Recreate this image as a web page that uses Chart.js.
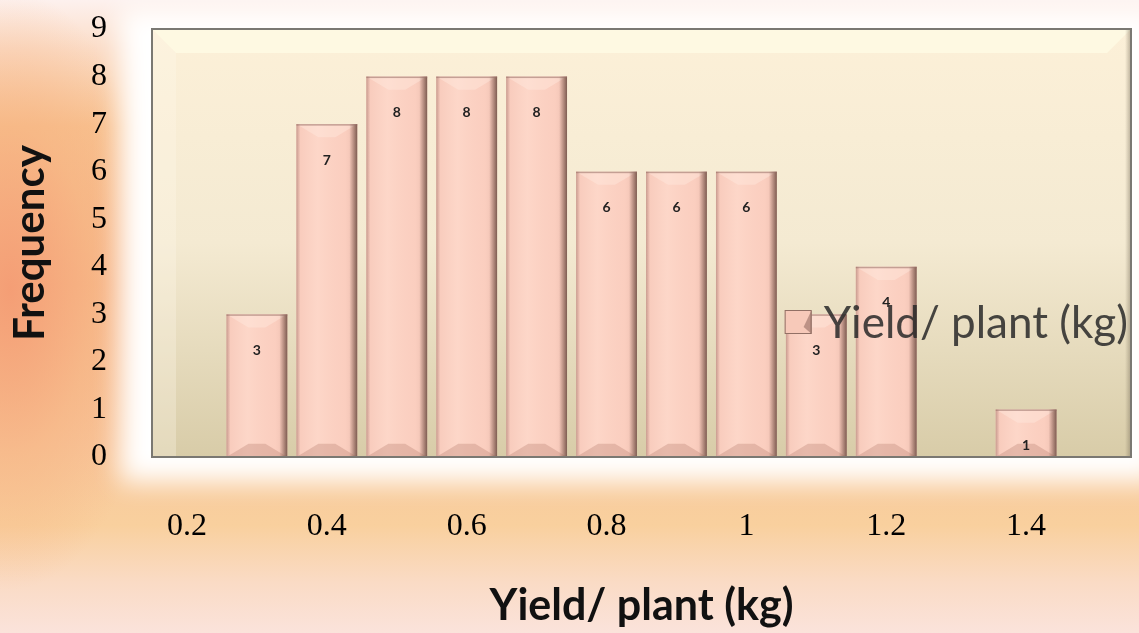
<!DOCTYPE html>
<html>
<head>
<meta charset="utf-8">
<script src="https://cdn.jsdelivr.net/npm/chart.js@4.4.0/dist/chart.umd.min.js"></script>
<style>
html,body{margin:0;padding:0;}
body{width:1139px;height:633px;overflow:hidden;position:relative;
  background:
    radial-gradient(ellipse 150px 300px at 10px 290px, rgba(244,155,115,0.9), rgba(246,175,125,0.5) 55%, rgba(248,200,150,0) 100%),
    linear-gradient(to bottom, #fdf1ee 0%, #fbdcc6 8%, #f8c391 20%, #f7b98c 45%, #f8c79c 70%, #f9d09e 83%, #fadbc5 92%, #fbe3db 100%);}
#glow{position:absolute;left:120px;top:8px;width:1040px;height:474px;background:#fff;filter:blur(13px);}
#wrap{position:absolute;left:0;top:0;width:1139px;height:633px;}
</style>
</head>
<body>
<div id="glow"></div>
<div id="wrap"><canvas id="myChart" width="1139" height="633"></canvas></div>
<script>
// histogram of yield per plant
const categories=['0.2','0.3','0.4','0.5','0.6','0.7','0.8','0.9','1','1.1','1.2','1.3','1.4','1.5']
const frequency=[0,3,7,8,8,8,6,6,6,3,4,0,1,0]
const seriesName='Yield/ plant (kg)'
const yMax=9

function poly(c,pts){
    c.beginPath()
    c.moveTo(pts[0][0],pts[0][1])
    for(let i=1;i<pts.length;i++) c.lineTo(pts[i][0],pts[i][1])
    c.closePath()
    c.fill()
}

// plot area fill + bevel
const plotBg={
    id:'plotBg',
    beforeDraw(chart){
        const {ctx,chartArea:a}=chart
        ctx.save()
        let g=ctx.createLinearGradient(0,a.top,0,a.bottom)
        g.addColorStop(0,'#fcf0d8')
        g.addColorStop(0.5,'#f4ead2')
        g.addColorStop(1,'#d8cca8')
        ctx.fillStyle=g
        ctx.fillRect(a.left,a.top,a.right-a.left,a.bottom-a.top)
        const b=24
        ctx.fillStyle='rgba(255,252,230,0.75)'
        poly(ctx,[[a.left,a.top],[a.right,a.top],[a.right-b,a.top+b],[a.left+b,a.top+b]])
        ctx.fillStyle='rgba(255,250,235,0.3)'
        poly(ctx,[[a.left,a.top],[a.left+b,a.top+b],[a.left+b,a.bottom],[a.left,a.bottom]])
        ctx.restore()
    },
    afterDraw(chart){
        const {ctx,chartArea:a}=chart
        ctx.save()
        let g=ctx.createLinearGradient(a.right-6,0,a.right,0)
        g.addColorStop(0,'rgba(120,110,90,0)')
        g.addColorStop(1,'rgba(120,110,90,0.5)')
        ctx.fillStyle=g
        ctx.fillRect(a.right-6,a.top,6,a.bottom-a.top)
        ctx.strokeStyle='#7a7872'
        ctx.lineWidth=2
        ctx.strokeRect(a.left,a.top,a.right-a.left,a.bottom-a.top)
        ctx.restore()
    }
}

// bevel on bars and value labels
const barBevel={
    id:'barBevel',
    afterDatasetsDraw(chart){
        const {ctx}=chart
        const meta=chart.getDatasetMeta(0)
        ctx.save()
        meta.data.forEach((bar,i)=>{
            const v=frequency[i]
            if(!v) return
            const p=bar.getProps(['x','y','base','width'],true)
            const x0=p.x-p.width/2, x1=p.x+p.width/2, top=p.y, bot=p.base
            // soft horizontal shading
            let h=ctx.createLinearGradient(x0,0,x1,0)
            h.addColorStop(0,'rgba(240,190,175,0.4)')
            h.addColorStop(0.35,'rgba(255,225,212,0.35)')
            h.addColorStop(0.8,'rgba(245,195,180,0.2)')
            h.addColorStop(1,'rgba(200,150,135,0.4)')
            ctx.fillStyle=h
            ctx.fillRect(x0,top,p.width,bot-top)
            const b=Math.min(22,(bot-top)/2)
            ctx.fillStyle='rgba(255,232,222,0.45)'
            poly(ctx,[[x0,top],[x1,top],[x1-b,top+b*0.6],[x0+b,top+b*0.6]])
            ctx.fillStyle='rgba(195,140,125,0.4)'
            poly(ctx,[[x0,bot],[x1,bot],[x1-b,bot-b*0.6],[x0+b,bot-b*0.6]])
            let g=ctx.createLinearGradient(x1-8,0,x1,0)
            g.addColorStop(0,'rgba(120,80,70,0)')
            g.addColorStop(1,'rgba(100,70,60,0.8)')
            ctx.fillStyle=g
            ctx.fillRect(x1-8,top,8,bot-top)
            let l=ctx.createLinearGradient(x0,0,x0+4,0)
            l.addColorStop(0,'rgba(170,125,115,0.6)')
            l.addColorStop(1,'rgba(170,125,115,0)')
            ctx.fillStyle=l
            ctx.fillRect(x0,top,4,bot-top)
            ctx.fillStyle='rgba(150,110,100,0.55)'
            ctx.fillRect(x0,top,p.width,1.5)
            // value label
            ctx.fillStyle='#222'
            ctx.font='bold 14px Lato'
            ctx.textAlign='center'
            ctx.textBaseline='middle'
            ctx.fillText(v,p.x,Math.min(top+36,bot-10))
        })
        ctx.restore()
    }
}

// legend drawn inside the plot area
const innerLegend={
    id:'innerLegend',
    afterDraw(chart){
        const {ctx,chartArea:a}=chart
        const label=chart.data.datasets[0].label
        ctx.save()
        ctx.font='44px Lato'
        const tw=ctx.measureText(label).width
        const right=a.right-3
        const tx=right-tw
        const cy=322
        const bx=tx-39, bs=27
        ctx.fillStyle='#f7c9b9'
        ctx.fillRect(bx,cy-12,bs,bs-3)
        ctx.fillStyle='rgba(150,110,100,0.6)'
        poly(ctx,[[bx+bs,cy-12],[bx+bs,cy+12],[bx+bs-8,cy+5]])
        ctx.strokeStyle='rgba(120,90,80,0.8)'
        ctx.lineWidth=1
        ctx.strokeRect(bx+0.5,cy-11.5,bs-1,bs-4)
        ctx.fillStyle='rgba(40,40,40,0.85)'
        ctx.textBaseline='middle'
        ctx.textAlign='left'
        ctx.fillText(label,tx,cy+2)
        ctx.restore()
    }
}

const chartCtx=document.getElementById('myChart')
let chart=new Chart(chartCtx,{
    type:'bar',
    data:{
        labels:categories,
        datasets:[{
            label:seriesName,
            data:frequency,
            backgroundColor:'#fcd1c2',
            borderWidth:0,
            barPercentage:0.87,
            categoryPercentage:1
        }]
    },
    options:{
        responsive:false,
        animation:false,
        layout:{padding:{left:0,right:8,top:29,bottom:0}},
        plugins:{legend:{display:false},tooltip:{enabled:false}},
        scales:{
            x:{
                grid:{display:false,drawTicks:false},
                border:{display:false},
                ticks:{
                    autoSkip:false,maxRotation:0,padding:50,color:'#000',
                    font:{family:'Liberation Serif',size:32},
                    callback:(v,i)=>i%2===0?categories[i]:''
                },
                title:{display:true,text:seriesName,color:'#111',
                    font:{family:'Lato',size:43,weight:'bold'},padding:{top:0,bottom:1}},
                afterFit(s){s.height=176;s.paddingLeft=0;s.paddingRight=0}
            },
            y:{
                min:0,max:yMax,
                grid:{display:false,drawTicks:false},
                border:{display:false},
                ticks:{stepSize:1,padding:45,color:'#000',font:{family:'Liberation Serif',size:32}},
                title:{display:true,text:'Frequency',color:'#111',
                    font:{family:'Lato',size:42,weight:'bold'},padding:{top:5,bottom:0}},
                afterFit(s){s.width=152;s.paddingTop=0;s.paddingBottom=0}
            }
        }
    },
    plugins:[plotBg,barBevel,innerLegend]
})
</script>
</body>
</html>
